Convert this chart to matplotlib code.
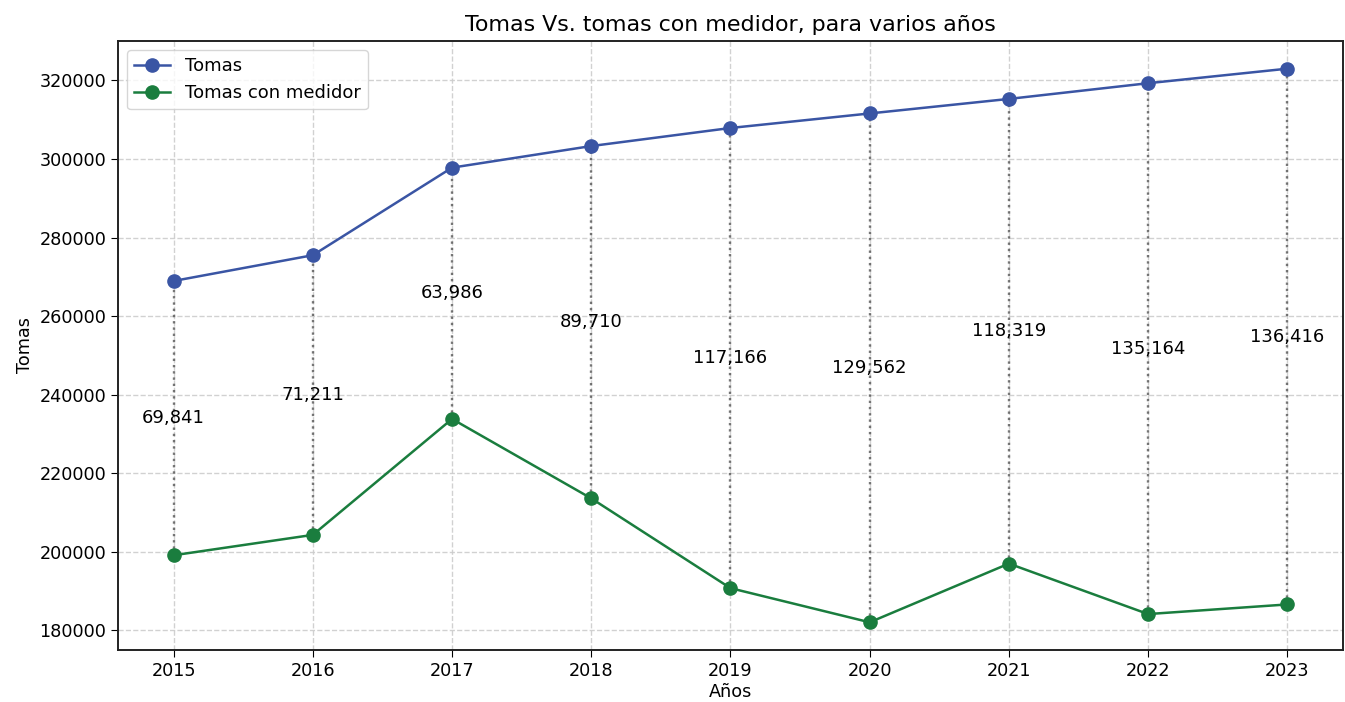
import matplotlib.pyplot as plt

years = [2015, 2016, 2017, 2018, 2019, 2020, 2021, 2022, 2023]
tomas = [268950, 275510, 297800, 303300, 307900, 311600, 315300, 319300, 323000]
tomas_medidor = [199109, 204299, 233814, 213590, 190734, 182038, 196981, 184136, 186584]

fig = plt.figure(figsize=(13.45, 7.02), dpi=100)
ax = fig.add_axes([0.0877, 0.0741, 0.9108, 0.8675])

ax.plot(years, tomas, color="#3a55a4", marker="o", markersize=9.5, linewidth=1.8,
        label="Tomas", zorder=3)
ax.plot(years, tomas_medidor, color="#1a7d3e", marker="o", markersize=9.5, linewidth=1.8,
        label="Tomas con medidor", zorder=3)

for yr, t, m in zip(years, tomas, tomas_medidor):
    ax.vlines(yr, m, t, colors="#555555", linestyles=":", linewidth=1.7, alpha=0.8, zorder=2)
    ax.text(yr, (t + m) / 2, f"{t - m:,}", ha="center", va="center", fontsize=13)

ax.set_xticks(years)
ax.tick_params(labelsize=12.7, length=5)
ax.grid(True, linestyle="--", color="#cccccc", linewidth=1.0, alpha=0.9)
for s in ax.spines.values():
    s.set_linewidth(1.4)
    s.set_color("#222222")

ax.set_title("Tomas Vs. tomas con medidor, para varios años", fontsize=15.9, pad=7)
ax.set_xlabel("Años", fontsize=12.7, labelpad=2)
ax.set_ylabel("Tomas", fontsize=12.7)
ax.legend(loc="upper left", fontsize=13)

fig.savefig("out.png", dpi=100)
